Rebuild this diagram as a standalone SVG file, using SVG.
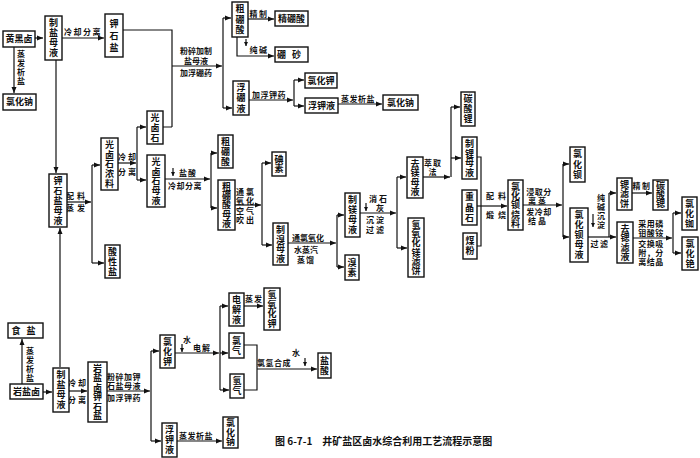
<svg xmlns="http://www.w3.org/2000/svg" width="700" height="458" viewBox="0 0 700 458">
<style>
.b{fill:#fff;stroke:#111;stroke-width:1.4}
.t{font-family:"Noto Sans CJK SC","Noto Sans CJK JP",sans-serif;font-size:9px;font-weight:bold;fill:#111;text-anchor:middle}
.l{font-family:"Noto Sans CJK SC","Noto Sans CJK JP",sans-serif;font-size:8px;font-weight:bold;fill:#111;text-anchor:middle}
.v{writing-mode:vertical-rl}
.c{fill:none;stroke:#111;stroke-width:1.2}
.a{marker-end:url(#ar)}
.s{marker-end:url(#as)}
</style>
<defs>
<marker id="ar" markerUnits="userSpaceOnUse" markerWidth="6" markerHeight="6" refX="6" refY="3" orient="auto"><path d="M0,0.5 L6,3 L0,5.5 z" fill="#111"/></marker>
<marker id="as" markerUnits="userSpaceOnUse" markerWidth="4" markerHeight="4" refX="4" refY="2" orient="auto"><path d="M0,0 L4,2 L0,4 z" fill="#111"/></marker>
</defs>
<rect width="700" height="458" fill="#fff"/>

<g id="connectors">
<path class="c a" d="M35,38 H43"/>
<path class="c a" d="M14,47 V93"/>
<path class="c a" d="M62,38 H104"/>
<path class="c" d="M123,30 H172 V127 M163,127 H172"/>
<path class="c a" d="M172,66 H222"/>
<path class="c" d="M223,18 V108"/>
<path class="c a" d="M223,18 H231"/>
<path class="c a" d="M223,108 H232"/>
<path class="c a" d="M248,19 H274"/>
<path class="c a" d="M237,37 V56 H274"/>
<path class="c s" d="M246,39 V46"/>
<path class="c a" d="M249,100 H293"/>
<path class="c" d="M294,80 V106"/>
<path class="c a" d="M294,80 H304"/>
<path class="c a" d="M294,106 H304"/>
<path class="c a" d="M338,104 H382"/>

<path class="c a" d="M56,60 V173"/>
<path class="c a" d="M60,367 V228"/>
<path class="c a" d="M67,202 H91"/>
<path class="c" d="M92,165 V263"/>
<path class="c a" d="M92,165 H100"/>
<path class="c a" d="M92,263 H104"/>
<path class="c a" d="M118,163 H136"/>
<path class="c" d="M137,127 V180"/>
<path class="c a" d="M137,127 H146"/>
<path class="c a" d="M137,180 H146"/>
<path class="c a" d="M165,179 H210"/>
<path class="c s" d="M173,168 V176"/>
<path class="c" d="M211,153 V208"/>
<path class="c a" d="M211,153 H217"/>
<path class="c a" d="M211,208 H217"/>
<path class="c a" d="M235,205 H261"/>
<path class="c" d="M262,163 V245"/>
<path class="c a" d="M262,163 H271"/>
<path class="c a" d="M262,245 H272"/>
<path class="c a" d="M288,243 H336"/>
<path class="c" d="M337,215 V267"/>
<path class="c a" d="M337,215 H344"/>
<path class="c a" d="M337,267 H344"/>
<path class="c a" d="M360,213 H396"/>
<path class="c s" d="M366,203 V211"/>
<path class="c" d="M397,177 V248"/>
<path class="c a" d="M397,177 H406"/>
<path class="c a" d="M397,248 H407"/>
<path class="c a" d="M423,177 H450"/>
<path class="c" d="M451,107 V177"/>
<path class="c a" d="M451,107 H460"/>
<path class="c a" d="M451,158 H461"/>
<path class="c" d="M477,157 H481 V246 H477"/>
<path class="c a" d="M477,206 H507"/>
<path class="c a" d="M523,205 H562"/>
<path class="c" d="M563,164 V237"/>
<path class="c a" d="M563,164 H569"/>
<path class="c a" d="M563,237 H569"/>
<path class="c a" d="M588,237 H616"/>
<path class="c s" d="M593,214 V227"/>
<path class="c" d="M609,193 V237"/>
<path class="c a" d="M609,193 H616"/>
<path class="c a" d="M632,193 H652"/>
<path class="c a" d="M633,238 H672"/>
<path class="c" d="M673,213 V253"/>
<path class="c a" d="M673,213 H681"/>
<path class="c a" d="M673,253 H681"/>

<path class="c a" d="M22,384 V339"/>
<path class="c a" d="M43,392 H52"/>
<path class="c a" d="M69,391 H87"/>
<path class="c a" d="M107,391 H150"/>
<path class="c" d="M151,351 V441"/>
<path class="c a" d="M151,351 H159"/>
<path class="c a" d="M151,441 H161"/>
<path class="c a" d="M175,353 H219"/>
<path class="c s" d="M182,344 V352"/>
<path class="c" d="M220,306 V390"/>
<path class="c a" d="M220,306 H228"/>
<path class="c a" d="M220,353 H228"/>
<path class="c a" d="M220,390 H229"/>
<path class="c a" d="M244,306 H263"/>
<path class="c" d="M244,345 H257 V390 H244"/>
<path class="c a" d="M257,369 H317"/>
<path class="c s" d="M305,358 V366"/>
<path class="c a" d="M177,441 H222"/>
</g>

<g id="labels">
<text class="l v" x="21" y="68.4" letter-spacing="1">蒸发析盐</text>
<text class="l" x="83" y="35" letter-spacing="1.5">冷却分离</text>
<text class="l" x="196" y="54"><tspan x="196">粉碎加制</tspan><tspan x="196" dy="9.5">盐母液</tspan></text>
<text class="l" x="196" y="76">加浮硼药</text>
<text class="l" x="259" y="16.5" letter-spacing="1.5">精制</text>
<text class="l" x="259" y="53" letter-spacing="1.5">纯碱</text>
<text class="l" x="269" y="97.5" letter-spacing="0.5">加浮钾药</text>
<text class="l" x="358" y="101.5" letter-spacing="0.5">蒸发析盐</text>
<text class="l" x="77" y="199" letter-spacing="3">配料</text>
<text class="l" x="77" y="211" letter-spacing="3">蒸发</text>
<text class="l" x="128" y="159.5" letter-spacing="2">冷却</text>
<text class="l" x="128" y="175" letter-spacing="2">分离</text>
<text class="l" x="188" y="175.5" letter-spacing="1">盐酸</text>
<text class="l" x="185" y="188.5" letter-spacing="0.5">冷却分离</text>
<text class="l" x="246" y="194.5" letter-spacing="2"><tspan x="246">通氯</tspan><tspan x="246" dy="9">氧化</tspan></text>
<text class="l" x="246" y="213.5" letter-spacing="2"><tspan x="246">空气</tspan><tspan x="246" dy="9">吹出</tspan></text>
<text class="l" x="308" y="240.5">通氯氧化</text>
<text class="l" x="306" y="253"><tspan x="306">水蒸汽</tspan><tspan x="306" dy="9.5" letter-spacing="1">蒸馏</tspan></text>
<text class="l" x="379" y="202" letter-spacing="2"><tspan x="379">消石</tspan><tspan x="381" dy="9">灰</tspan></text>
<text class="l" x="376" y="223" letter-spacing="2"><tspan x="376">沉淀</tspan><tspan x="376" dy="9.5">过滤</tspan></text>
<text class="l" x="433" y="166" letter-spacing="1"><tspan x="433">萃取</tspan><tspan x="433" dy="9">法</tspan></text>
<text class="l" x="498" y="199" letter-spacing="4">配料</text>
<text class="l" x="498" y="218" letter-spacing="4">煅烧</text>
<text class="l" x="539" y="194.5" letter-spacing="0.5"><tspan x="539">浸取分</tspan><tspan x="538" dy="9" letter-spacing="2">离蒸</tspan></text>
<text class="l" x="539" y="215" letter-spacing="0.5"><tspan x="539">发冷却</tspan><tspan x="538" dy="9" letter-spacing="2">结晶</tspan></text>
<text class="l v" x="601" y="212" letter-spacing="1">纯碱沉淀</text>
<text class="l" x="600" y="246.5" letter-spacing="1.5">过滤</text>
<text class="l" x="642" y="189" letter-spacing="1.5">精制</text>
<text class="l" x="651" y="227" letter-spacing="0.5"><tspan x="651">采用磷</tspan><tspan x="651" dy="9">钼酸铵</tspan></text>
<text class="l" x="651" y="246.5" letter-spacing="0.5"><tspan x="651">交换吸</tspan><tspan x="651" dy="9">附，分</tspan><tspan x="651" dy="9">离结晶</tspan></text>
<text class="l v" x="30" y="365" letter-spacing="1">蒸发析盐</text>
<text class="l" x="78" y="385.5" letter-spacing="2">冷却</text>
<text class="l" x="78" y="402.5" letter-spacing="2">分离</text>
<text class="l" x="124" y="379.5" letter-spacing="0.5"><tspan x="124">粉碎加钾</tspan><tspan x="124" dy="9">石盐母液</tspan></text>
<text class="l" x="124" y="400.5" letter-spacing="0.5">加浮钾药</text>
<text class="l" x="187" y="343">水</text>
<text class="l" x="202" y="350.5" letter-spacing="1">电解</text>
<text class="l" x="254" y="302" letter-spacing="1">蒸发</text>
<text class="l" x="274" y="366" letter-spacing="0.5">氯氢合成</text>
<text class="l" x="296" y="356">水</text>
<text class="l" x="196" y="438.5" letter-spacing="0.5">蒸发析盐</text>
<text class="t" x="275" y="445" style="text-anchor:start;font-size:10px">图 6-7-1　井矿盐区卤水综合利用工艺流程示意图</text>
</g>

<g id="n_hhl"><rect class="b" x="3" y="31" width="32" height="16"/><text class="t" x="19" y="42.2">黄黑卤</text></g>
<g id="n_zy1"><rect class="b" x="45" y="16" width="17" height="44"/><text class="t v" x="53.5" y="38.5" letter-spacing="1">制盐母液</text></g>
<g id="n_jsy"><rect class="b" x="105" y="14" width="18" height="43"/><text class="t v" x="114" y="37" letter-spacing="3">钾石盐</text></g>
<g id="n_nacl1"><rect class="b" x="3" y="94" width="33" height="16"/><text class="t" x="19.5" y="105.2">氯化钠</text></g>
<g id="n_gls"><rect class="b" x="147" y="111" width="16" height="33"/><text class="t v" x="155" y="128" letter-spacing="1">光卤石</text></g>
<g id="n_cps1"><rect class="b" x="232" y="2" width="16" height="35"/><text class="t v" x="240" y="20.2" letter-spacing="1.5">粗硼酸</text></g>
<g id="n_jps"><rect class="b" x="275" y="11" width="33" height="15"/><text class="t" x="291.5" y="21.7">精硼酸</text></g>
<g id="n_ps"><rect class="b" x="275" y="47" width="33" height="15"/><text class="t" x="292" y="57.7" letter-spacing="6">硼砂</text></g>
<g id="n_fpy"><rect class="b" x="233" y="81" width="16" height="34"/><text class="t v" x="241" y="98.7" letter-spacing="1.5">浮硼液</text></g>
<g id="n_kcl1"><rect class="b" x="305" y="73" width="32" height="15"/><text class="t" x="321" y="83.7">氯化钾</text></g>
<g id="n_fjy1"><rect class="b" x="305" y="98" width="33" height="15"/><text class="t" x="321.5" y="108.7">浮钾液</text></g>
<g id="n_nacl2"><rect class="b" x="383" y="95" width="35" height="15"/><text class="t" x="400.5" y="105.7">氯化钠</text></g>

<g id="n_jsymy"><rect class="b" x="49" y="174" width="18" height="53"/><text class="t v" x="58" y="201" letter-spacing="1">钾石盐母液</text></g>
<g id="n_glsnl"><rect class="b" x="101" y="138" width="17" height="52"/><text class="t v" x="109.5" y="164.4" letter-spacing="0.8">光卤石浓料</text></g>
<g id="n_sxy"><rect class="b" x="105" y="245" width="15" height="33"/><text class="t v" x="112.5" y="262" letter-spacing="1">酸性盐</text></g>
<g id="n_glsmy"><rect class="b" x="147" y="155" width="18" height="52"/><text class="t v" x="156" y="181.4" letter-spacing="0.8">光卤石母液</text></g>
<g id="n_cps2"><rect class="b" x="218" y="135" width="15" height="33"/><text class="t v" x="225.5" y="152" letter-spacing="1">粗硼酸</text></g>
<g id="n_cpsmy"><rect class="b" x="218" y="180" width="17" height="50"/><text class="t v" x="226.5" y="205.2" letter-spacing="0.4">粗硼酸母液</text></g>
<g id="n_ds"><rect class="b" x="272" y="152" width="14" height="24"/><text class="t v" x="279" y="164.2" letter-spacing="0.5">碘素</text></g>
<g id="n_zxmy"><rect class="b" x="273" y="223" width="15" height="42"/><text class="t v" x="280.5" y="244.2" letter-spacing="0.5">制溴母液</text></g>
<g id="n_zmmy"><rect class="b" x="345" y="193" width="15" height="44"/><text class="t v" x="352.5" y="215.5" letter-spacing="1">制镁母液</text></g>
<g id="n_xs"><rect class="b" x="345" y="255" width="14" height="25"/><text class="t v" x="352" y="268" letter-spacing="1">溴素</text></g>
<g id="n_qmmy"><rect class="b" x="407" y="157" width="16" height="41"/><text class="t v" x="415" y="177.7" letter-spacing="0.5">去镁母液</text></g>
<g id="n_qyhm"><rect class="b" x="408" y="218" width="16" height="59"/><text class="t v" x="416" y="247.6" letter-spacing="0.2">氢氧化镁滤饼</text></g>
<g id="n_tsl"><rect class="b" x="461" y="92" width="14" height="34"/><text class="t v" x="468" y="109.5" letter-spacing="1">碳酸锂</text></g>
<g id="n_zlmy"><rect class="b" x="462" y="137" width="15" height="42"/><text class="t v" x="469.5" y="158.2" letter-spacing="0.5">制锂母液</text></g>
<g id="n_zjs"><rect class="b" x="462" y="190" width="15" height="35"/><text class="t v" x="469.5" y="208.2" letter-spacing="1.5">重晶石</text></g>
<g id="n_mf"><rect class="b" x="463" y="233" width="14" height="26"/><text class="t v" x="470" y="246.5" letter-spacing="1">煤粉</text></g>
<g id="n_lhbsl"><rect class="b" x="508" y="180" width="15" height="50"/><text class="t v" x="515.5" y="205.2" letter-spacing="0.4">氯化钡烧料</text></g>
<g id="n_lhb"><rect class="b" x="570" y="147" width="15" height="35"/><text class="t v" x="577.5" y="165.2" letter-spacing="1.5">氯化钡</text></g>
<g id="n_lhbmy"><rect class="b" x="570" y="208" width="18" height="54"/><text class="t v" x="579" y="235.5" letter-spacing="1">氯化钡母液</text></g>
<g id="n_slb"><rect class="b" x="617" y="178" width="15" height="32"/><text class="t v" x="624.5" y="194.2" letter-spacing="0.5">锶滤饼</text></g>
<g id="n_tss"><rect class="b" x="653" y="180" width="15" height="30"/><text class="t v" x="660.5" y="195">碳酸锶</text></g>
<g id="n_qsly"><rect class="b" x="617" y="222" width="16" height="41"/><text class="t v" x="625" y="242.7" letter-spacing="0.5">去锶滤液</text></g>
<g id="n_lhr"><rect class="b" x="682" y="197" width="15" height="33"/><text class="t v" x="689.5" y="214" letter-spacing="1">氯化铷</text></g>
<g id="n_lhs"><rect class="b" x="682" y="237" width="16" height="33"/><text class="t v" x="690" y="254" letter-spacing="1">氯化铯</text></g>

<g id="n_ss"><rect class="b" x="8" y="323" width="35" height="15"/><text class="t" x="26.5" y="333.7" letter-spacing="6">食盐</text></g>
<g id="n_ysl"><rect class="b" x="10" y="384" width="33" height="15"/><text class="t" x="26.5" y="394.7">岩盐卤</text></g>
<g id="n_zy2"><rect class="b" x="53" y="368" width="16" height="44"/><text class="t v" x="61" y="390.5" letter-spacing="1">制盐母液</text></g>
<g id="n_yslj"><rect class="b" x="88" y="362" width="19" height="60"/><text class="t v" x="97.5" y="392.2" letter-spacing="0.5">岩盐卤钾石盐</text></g>
<g id="n_kcl2"><rect class="b" x="160" y="335" width="15" height="33"/><text class="t v" x="167.5" y="352" letter-spacing="1">氯化钾</text></g>
<g id="n_fjy2"><rect class="b" x="162" y="423" width="15" height="34"/><text class="t v" x="169.5" y="440.5" letter-spacing="1">浮钾液</text></g>
<g id="n_djy"><rect class="b" x="229" y="293" width="15" height="33"/><text class="t v" x="236.5" y="310" letter-spacing="1">电解液</text></g>
<g id="n_qyhj"><rect class="b" x="264" y="288" width="16" height="42"/><text class="t v" x="272" y="309.2" letter-spacing="0.5">氢氧化钾</text></g>
<g id="n_lq"><rect class="b" x="229" y="333" width="15" height="25"/><text class="t v" x="236.5" y="346" letter-spacing="1">氯气</text></g>
<g id="n_qq"><rect class="b" x="230" y="374" width="14" height="24"/><text class="t v" x="237" y="386.5" letter-spacing="1">氢气</text></g>
<g id="n_ys"><rect class="b" x="318" y="353" width="13" height="25"/><text class="t v" x="324.5" y="366" letter-spacing="1">盐酸</text></g>
<g id="n_nacl3"><rect class="b" x="223" y="417" width="15" height="31"/><text class="t v" x="230.5" y="432.7" letter-spacing="0.5">氯化钠</text></g>
</svg>
